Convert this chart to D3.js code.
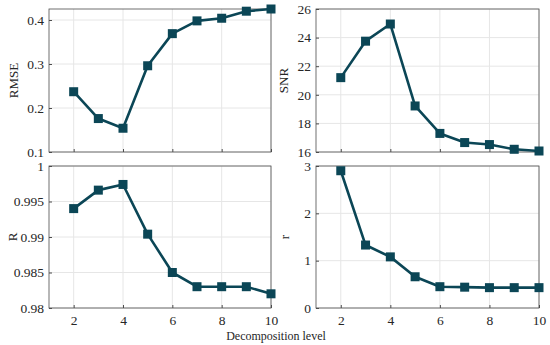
<!DOCTYPE html>
<html>
<head>
<meta charset="utf-8">
<script src="https://cdn.jsdelivr.net/npm/d3@7"></script>
<style>
    body { margin: 0; background: #fff; }
    svg text { font-family: "Liberation Serif", "Times New Roman", serif; fill: #262626; }
    .grid line { stroke: #e6e6e6; stroke-width: 1; }
    .box { fill: none; stroke: #4d4d4d; stroke-width: 0.8; }
    .series { fill: none; stroke: #0b4656; stroke-width: 2.6; stroke-linejoin: round; }
    .marker { fill: #0b4656; }
</style>
</head>
<body>
<div id="chart"></div>
<script>
// decomposition levels (x axis)
var levels = [2, 3, 4, 5, 6, 7, 8, 9, 10];
var xTicks = [2, 4, 6, 8, 10];

// one array per metric
var rmse = [0.237, 0.176, 0.154, 0.296, 0.369, 0.398, 0.404, 0.420, 0.425];
var snr = [21.2, 23.75, 24.95, 19.22, 17.3, 16.66, 16.52, 16.19, 16.07];
var corrR = [0.9940, 0.9966, 0.9974, 0.9904, 0.9850, 0.9830, 0.9830, 0.9830, 0.9820];
var ratio = [2.90, 1.33, 1.08, 0.66, 0.45, 0.44, 0.43, 0.43, 0.43];

var rmseTicks = [0.1, 0.2, 0.3, 0.4];
var snrTicks = [16, 18, 20, 22, 24, 26];
var corrTicks = [0.98, 0.985, 0.99, 0.995, 1];
var ratioTicks = [0, 1, 2, 3];

var width = 550, height = 345;
var fontSize = '13.5px';
var serif = '"Liberation Serif", "Times New Roman", serif';

var svg = d3.select('#chart').append('svg')
    .attr('width', width)
    .attr('height', height);

// panel layout
var panels = [
    {label: 'RMSE', values: rmse, ticks: rmseTicks, domain: [0.1, 0.425],
        left: 49, top: 9, w: 222, h: 143, xLabels: false, labelX: 13},
    {label: 'SNR', values: snr, ticks: snrTicks, domain: [16, 26],
        left: 316, top: 9, w: 223, h: 143, xLabels: false, labelX: 283},
    {label: 'R', values: corrR, ticks: corrTicks, domain: [0.98, 1],
        left: 49, top: 166, w: 222, h: 142, xLabels: true, labelX: 12},
    {label: 'r', values: ratio, ticks: ratioTicks, domain: [0, 3],
        left: 316, top: 166, w: 223, h: 142, xLabels: true, labelX: 284}
];

function styleAxis(sel) {
    sel.attr('font-family', serif).attr('font-size', 13.5);
    sel.select('.domain').remove();
    sel.selectAll('line').attr('stroke', '#4d4d4d');
    sel.selectAll('text')
        .style('font-size', fontSize)
        .style('font-family', serif)
        .attr('fill', '#262626');
}

panels.forEach(function(p) {
    var x = d3.scaleLinear().domain([1, 10]).range([0, p.w]);
    var y = d3.scaleLinear().domain(p.domain).range([p.h, 0]);

    var g = svg.append('g')
        .attr('transform', 'translate(' + p.left + ',' + p.top + ')');

    // gridlines
    g.append('g').attr('class', 'grid')
        .selectAll('line').data(xTicks).enter().append('line')
        .attr('x1', function(d) { return x(d); })
        .attr('x2', function(d) { return x(d); })
        .attr('y1', 0).attr('y2', p.h);
    g.append('g').attr('class', 'grid')
        .selectAll('line').data(p.ticks).enter().append('line')
        .attr('y1', function(d) { return y(d); })
        .attr('y2', function(d) { return y(d); })
        .attr('x1', 0).attr('x2', p.w);

    // axes with inward ticks
    var yAxis = d3.axisLeft(y).tickValues(p.ticks).tickSize(-3).tickPadding(5)
        .tickFormat(function(d) { return String(+d.toFixed(4)); });
    g.append('g').call(yAxis).call(styleAxis);

    var xAxis = d3.axisBottom(x).tickValues(xTicks).tickSize(-3).tickPadding(7)
        .tickFormat(p.xLabels ? d3.format('d') : function() { return ''; });
    g.append('g').attr('transform', 'translate(0,' + p.h + ')')
        .call(xAxis).call(styleAxis);

    g.append('rect').attr('class', 'box')
        .attr('width', p.w).attr('height', p.h);

    // series line and square markers
    var line = d3.line()
        .x(function(d, i) { return x(levels[i]); })
        .y(function(d) { return y(d); });
    g.append('path').attr('class', 'series').attr('d', line(p.values));

    var ms = 9;
    g.selectAll('rect.marker').data(p.values).enter().append('rect')
        .attr('class', 'marker')
        .attr('x', function(d, i) { return x(levels[i]) - ms / 2; })
        .attr('y', function(d) { return y(d) - ms / 2; })
        .attr('width', ms).attr('height', ms);

    // y label
    svg.append('text')
        .attr('transform', 'translate(' + p.labelX + ',' + (p.top + p.h / 2) + ') rotate(-90)')
        .attr('text-anchor', 'middle')
        .attr('dy', '0.35em')
        .style('font-size', '13px')
        .text(p.label);
});

svg.append('text')
    .attr('x', 276).attr('y', 340)
    .attr('text-anchor', 'middle')
    .style('font-size', '12px')
    .text('Decomposition level');
</script>
</body>
</html>
